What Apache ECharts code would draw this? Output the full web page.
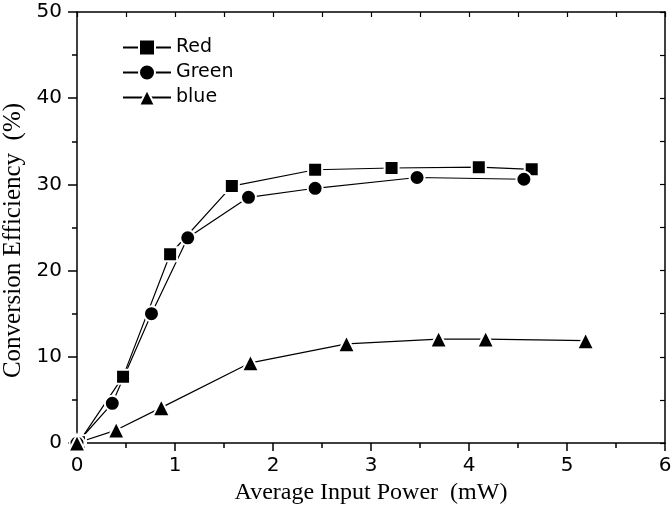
<!DOCTYPE html>
<html>
<head>
	<meta charset="UTF-8" />
	<title></title>
	<style type="text/css">
		* {
			margin: 0;
			padding: 0;
		}

		#main {
			width: 671px;
			height: 511px;
			background-color: #fff;
		}
	</style>
</head>
<body>
	<div id="main"></div>
</body>
<script src="https://cdn.jsdelivr.net/npm/echarts@6/dist/echarts.min.js"></script>
<script type="text/javascript">
	// 数据 (x: mW, y: %)
	var redX = [0.02, 0.47, 0.95, 1.58, 2.43, 3.21, 4.10, 4.64]
	var redY = [0.1, 7.7, 21.9, 29.8, 31.7, 31.9, 32.0, 31.75]
	var greenX = [0, 0.36, 0.76, 1.13, 1.75, 2.43, 3.47, 4.56]
	var greenY = [0, 4.6, 15.0, 23.8, 28.5, 29.55, 30.8, 30.6]
	var blueX = [0, 0.40, 0.86, 1.77, 2.75, 3.69, 4.17, 5.19]
	var blueY = [0, 1.5, 4.1, 9.3, 11.5, 12.06, 12.06, 11.87]
	var seriesNames = ['Red', 'Green', 'blue']
	var xTicks = [0, 1, 2, 3, 4, 5, 6]
	var yTicks = [0, 10, 20, 30, 40, 50]

	function pairs(xs, ys) {
		return xs.map(function (x, i) { return [x, ys[i]] })
	}

	var myChart = echarts.init(document.getElementById('main'))

	var axisLine = { show: true, onZero: false, lineStyle: { color: '#000', width: 1.5 } }
	var tickFont = { color: '#000', fontSize: 20, fontFamily: 'DejaVu Sans' }
	var titleFont = { color: '#000', fontSize: 24, fontFamily: 'Liberation Serif' }

	function lineSeries(name, data, symbol, size) {
		return {
			name: name,
			type: 'line',
			data: data,
			symbol: symbol,
			symbolSize: size,
			showAllSymbol: true,
			lineStyle: { color: '#000', width: 1.2 },
			itemStyle: { color: '#000', borderColor: '#fff', borderWidth: 2 },
			animation: false
		}
	}

	var option = {
		backgroundColor: '#fff',
		grid: { left: 77, right: 6, top: 12, bottom: 68, outerBoundsMode: 'none', containLabel: false },
		legend: {
			data: seriesNames,
			orient: 'vertical',
			left: 117,
			top: 33,
			itemWidth: 48,
			itemHeight: 20,
			itemGap: 6,
			textStyle: { color: '#000', fontSize: 19, fontFamily: 'DejaVu Sans' }
		},
		xAxis: [{
			type: 'value',
			min: xTicks[0],
			max: xTicks[xTicks.length - 1],
			interval: 1,
			position: 'bottom',
			name: 'Average Input Power  (mW)',
			nameLocation: 'middle',
			nameGap: 38,
			nameTextStyle: titleFont,
			axisLine: axisLine,
			axisTick: { show: true, length: 8, lineStyle: { color: '#000', width: 1.5 } },
			minorTick: { show: true, splitNumber: 2, length: 5, lineStyle: { color: '#000', width: 1.5 } },
			axisLabel: Object.assign({ margin: 13 }, tickFont),
			splitLine: { show: false }
		}, {
			type: 'value',
			min: 0,
			max: 6,
			interval: 0.5,
			position: 'top',
			axisLine: axisLine,
			axisTick: { show: true, inside: true, length: 5, lineStyle: { color: '#000', width: 1.2 } },
			axisLabel: { show: false },
			splitLine: { show: false }
		}],
		yAxis: [{
			type: 'value',
			min: yTicks[0],
			max: yTicks[yTicks.length - 1],
			interval: 10,
			position: 'left',
			name: 'Conversion Efficiency  (%)',
			nameLocation: 'middle',
			nameGap: 48,
			nameTextStyle: Object.assign({ padding: [0, 26, 0, 0] }, titleFont, { fontSize: 25 }),
			axisLine: axisLine,
			axisTick: { show: true, length: 9, lineStyle: { color: '#000', width: 1.5 } },
			minorTick: { show: true, splitNumber: 2, length: 5, lineStyle: { color: '#000', width: 1.5 } },
			axisLabel: Object.assign({ margin: 15 }, tickFont),
			splitLine: { show: false }
		}, {
			type: 'value',
			min: 0,
			max: 50,
			interval: 5,
			position: 'right',
			axisLine: axisLine,
			axisTick: { show: true, inside: true, length: 5, lineStyle: { color: '#000', width: 1.2 } },
			axisLabel: { show: false },
			splitLine: { show: false }
		}],
		series: [
			lineSeries(seriesNames[0], pairs(redX, redY), 'rect', 14),
			lineSeries(seriesNames[1], pairs(greenX, greenY), 'circle', 15),
			lineSeries(seriesNames[2], pairs(blueX, blueY), 'triangle', 17)
		]
	}
	myChart.setOption(option)
</script>
</html>
